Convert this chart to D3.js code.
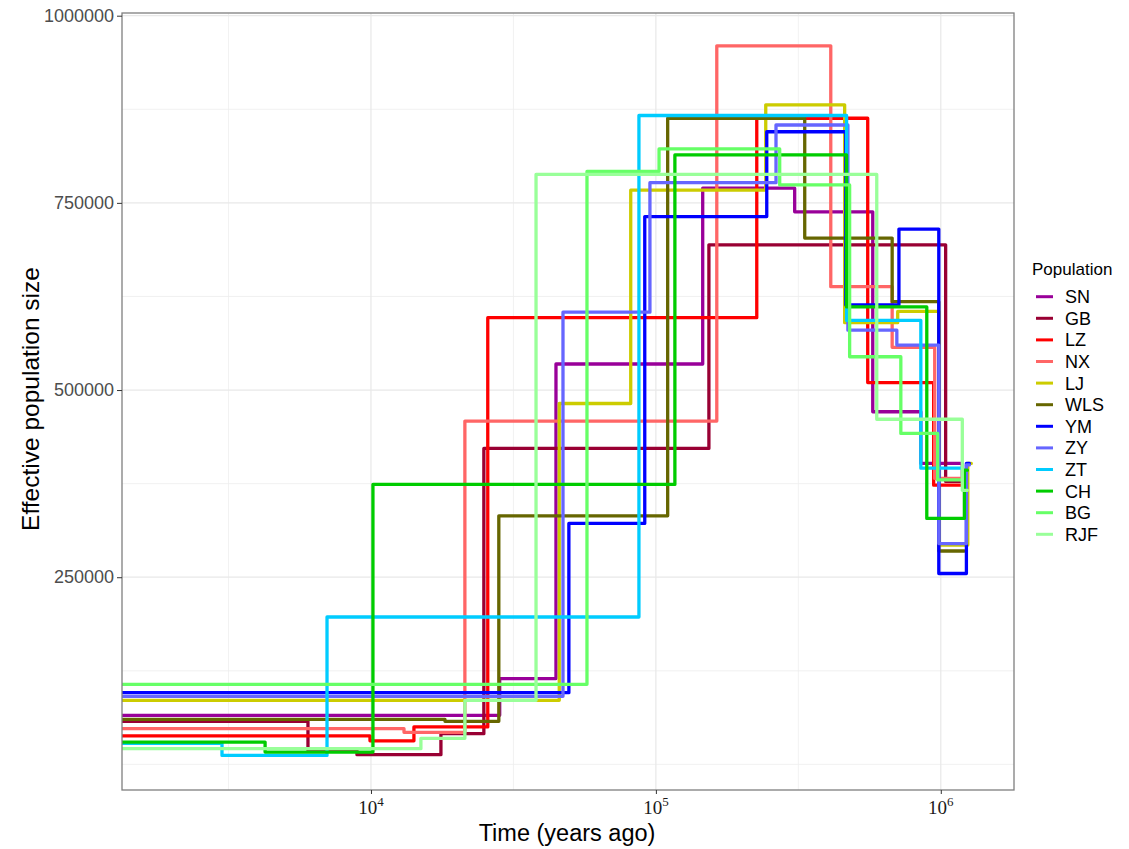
<!DOCTYPE html>
<html lang="en">
<head>
<meta charset="utf-8">
<title>PSMC effective population size</title>
<script src="https://cdn.jsdelivr.net/npm/d3@7"></script>
<style>
  body { margin: 0; background: #fff; }
</style>
</head>
<body>
<script>
// populations in legend order
var populations = ["SN", "GB", "LZ", "NX", "LJ", "WLS", "YM", "ZY", "ZT", "CH", "BG", "RJF"];
var palette = ["#990099", "#990033", "#ff0000", "#ff6666", "#cccc00", "#666600",
               "#0000ff", "#6666ff", "#00ccff", "#00cc00", "#66ff66", "#99ff99"];

// [time (years ago), effective population size] - step starts, last pair ends the line
var SN  = [[1337, 65500], [28300, 114600], [44600, 534800], [146000, 769600], [307000, 738000],
           [577000, 471000], [851000, 402000], [1190000, 380000], [1220000, 380000]];
var GB  = [[1337, 57500], [6010, 18700], [8930, 13000], [17600, 41000], [24900, 422000],
           [153500, 694000], [1040000, 378000], [1190000, 378000]];
var LZ  = [[1337, 38000], [9920, 31500], [14150, 50000], [25700, 596700], [226000, 863000],
           [554000, 510000], [944000, 373000], [1210000, 373000]];
var NX  = [[1337, 47700], [13060, 42800], [21360, 458600], [163600, 959700], [411000, 638000],
           [675000, 557000], [952000, 382000], [1180000, 382000]];
var LJ  = [[1337, 85600], [45800, 482000], [81600, 767000], [243000, 881000], [459800, 590000],
           [706000, 605000], [984000, 293000], [1244000, 402000], [1280000, 402000]];
var WLS = [[1337, 60000], [18190, 57500], [28100, 332000], [110000, 863000], [333000, 703000],
           [675000, 618000], [984000, 285000], [1210000, 285000]];
var YM  = [[1337, 95800], [49500, 321800], [91400, 731700], [245000, 845000], [464000, 613600],
           [713000, 715000], [984000, 255000], [1230000, 402000], [1260000, 402000]];
var ZY  = [[1337, 90900], [47200, 604000], [95300, 777000], [264000, 854000], [472000, 580000],
           [701000, 560000], [984000, 295000], [1230000, 400000], [1260000, 400000]];
var ZT  = [[1337, 28000], [3000, 12000], [7010, 196900], [87200, 866700], [467000, 593000],
           [851000, 395700], [1180000, 395700]];
var CH  = [[1337, 29800], [4250, 16400], [10160, 374000], [116600, 814000], [467000, 611000],
           [893000, 328500], [1210000, 393000], [1240000, 393000]];
var BG  = [[1337, 107000], [57300, 792000], [102600, 822000], [272000, 774000], [478700, 544500],
           [724000, 442000], [975000, 380000], [1180000, 380000]];
var RJF = [[1337, 21000], [14970, 34800], [21360, 85600], [37960, 788000], [596000, 461000],
           [1190000, 366000], [1240000, 366000]];

var seriesData = [SN, GB, LZ, NX, LJ, WLS, YM, ZY, ZT, CH, BG, RJF];

var xTicks = [1e4, 1e5, 1e6];
var xMinor = [Math.pow(10, 3.5), Math.pow(10, 4.5), Math.pow(10, 5.5)];
var yTicks = [250000, 500000, 750000, 1000000];
var yMinor = [0, 125000, 375000, 625000, 875000];

var W = 1129, H = 849;
var pLeft = 122, pRight = 1014, pTop = 13, pBottom = 790;
var sans = "Liberation Sans, Arial, sans-serif";

var svg = d3.select("body").append("svg")
    .attr("width", W)
    .attr("height", H);

var x = d3.scaleLog().domain([1337, 1807000]).range([pLeft, pRight]);
var y = d3.scaleLinear().domain([-34200, 1003600]).range([pBottom, pTop]);
var color = d3.scaleOrdinal().domain(populations).range(palette);

// grid
var grid = svg.append("g");
grid.selectAll(".vmin").data(xMinor).enter().append("line")
    .attr("x1", d => x(d)).attr("x2", d => x(d))
    .attr("y1", pTop).attr("y2", pBottom)
    .attr("stroke", "#ededed").attr("stroke-width", 0.8);
grid.selectAll(".hmin").data(yMinor).enter().append("line")
    .attr("x1", pLeft).attr("x2", pRight)
    .attr("y1", d => y(d)).attr("y2", d => y(d))
    .attr("stroke", "#ededed").attr("stroke-width", 0.8);
grid.selectAll(".vmaj").data(xTicks).enter().append("line")
    .attr("x1", d => x(d)).attr("x2", d => x(d))
    .attr("y1", pTop).attr("y2", pBottom)
    .attr("stroke", "#e8e8e8").attr("stroke-width", 1.2);
grid.selectAll(".hmaj").data(yTicks).enter().append("line")
    .attr("x1", pLeft).attr("x2", pRight)
    .attr("y1", d => y(d)).attr("y2", d => y(d))
    .attr("stroke", "#e8e8e8").attr("stroke-width", 1.2);

// step lines
svg.append("clipPath").attr("id", "clip")
    .append("rect").attr("x", pLeft).attr("y", pTop)
    .attr("width", pRight - pLeft).attr("height", pBottom - pTop);

var line = d3.line()
    .x(d => x(d[0]))
    .y(d => y(d[1]))
    .curve(d3.curveStepAfter);

svg.append("g").attr("clip-path", "url(#clip)")
    .selectAll("path")
    .data(seriesData)
    .enter()
    .append("path")
    .attr("d", line)
    .attr("fill", "none")
    .attr("stroke", (d, i) => color(populations[i]))
    .attr("stroke-width", 3.3)
    .attr("stroke-linejoin", "round")
    .attr("stroke-linecap", "round");

// panel border
svg.append("rect")
    .attr("x", pLeft).attr("y", pTop)
    .attr("width", pRight - pLeft).attr("height", pBottom - pTop)
    .attr("fill", "none").attr("stroke", "#7f7f7f").attr("stroke-width", 1.3);

// y axis
var yAxis = svg.append("g")
    .attr("transform", "translate(" + pLeft + ",0)")
    .call(d3.axisLeft(y).tickValues(yTicks).tickSize(5).tickPadding(3).tickFormat(d3.format("d")));
yAxis.select(".domain").remove();
yAxis.selectAll(".tick line").attr("stroke", "#333");
yAxis.selectAll(".tick text")
    .style("font-family", sans)
    .style("font-size", "18px").attr("fill", "#4d4d4d");

// x axis with superscript labels
var xAxis = svg.append("g")
    .attr("transform", "translate(0," + pBottom + ")")
    .call(d3.axisBottom(x).tickValues(xTicks).tickSize(4).tickFormat(""));
xAxis.select(".domain").remove();
xAxis.selectAll(".tick line").attr("stroke", "#333");

var xl = svg.append("g").selectAll("text")
    .data(xTicks).enter().append("text")
    .attr("x", d => x(d))
    .attr("y", 814)
    .attr("text-anchor", "middle")
    .style("font-family", "Liberation Serif, Times New Roman, serif")
    .style("font-size", "19px")
    .attr("fill", "#1a1a1a");
xl.append("tspan").text("10");
xl.append("tspan")
    .attr("dy", -8).style("font-size", "13px")
    .text(d => Math.round(Math.log10(d)));

// titles
svg.append("text")
    .attr("x", 567).attr("y", 841)
    .attr("text-anchor", "middle")
    .style("font-family", sans).style("font-size", "23.5px").attr("fill", "#000")
    .text("Time (years ago)");

svg.append("text")
    .attr("transform", "translate(39,399) rotate(-90)")
    .attr("text-anchor", "middle")
    .style("font-family", sans).style("font-size", "24.5px").attr("fill", "#000")
    .text("Effective population size");

// legend
var legend = svg.append("g").attr("transform", "translate(1032,0)");
legend.append("text")
    .attr("x", 0).attr("y", 275)
    .style("font-family", sans).style("font-size", "17px").attr("fill", "#000")
    .text("Population");

var items = legend.selectAll(".item")
    .data(populations).enter().append("g")
    .attr("transform", (d, i) => "translate(0," + (296.7 + i * 21.6) + ")");
items.append("line")
    .attr("x1", 4).attr("x2", 21)
    .attr("stroke", d => color(d)).attr("stroke-width", 3);
items.append("text")
    .attr("x", 33).attr("y", 6.5)
    .style("font-family", sans).style("font-size", "18px").attr("fill", "#000")
    .text(d => d);
</script>
</body>
</html>
